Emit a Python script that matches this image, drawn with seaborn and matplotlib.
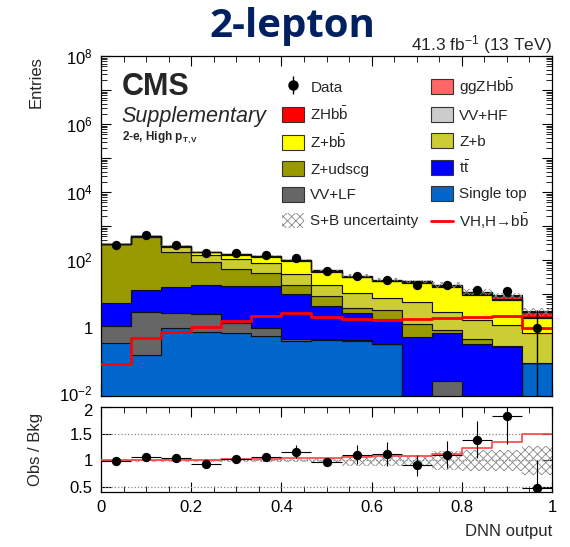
import numpy as np
import pandas as pd
import matplotlib
matplotlib.use("Agg")
import matplotlib.pyplot as plt
import matplotlib.ticker as mticker
import matplotlib.transforms as mtrans
from matplotlib.patches import Patch
from matplotlib.lines import Line2D
import seaborn as sns

# ---------------- data ----------------
edges = np.linspace(0, 1, 16)
bin_edges = [float(e) for e in edges]
centers = 0.5 * (edges[:-1] + edges[1:])

single_top = [0.37, 0.165, 1.0, 0.77, 0.72, 0.57, 0.41, 0.44, 0.42, 0.33, 0, 0, 0, 0, 0.094]
vv_lf      = [0.79, 2.7, 1.7, 1.78, 0.73, 0.46, 0.08, 0.03, 0.03, 0.0, 0, 0.027, 0, 0, 0]
ttbar      = [4.3, 10.1, 13.7, 15.7, 16.2, 16.6, 9.4, 3.9, 2.25, 1.45, 0.55, 0.69, 0.35, 0.28, 0]
z_udscg    = [285, 455, 160, 72, 35, 23, 8.4, 4.3, 1.06, 1.7, 0.72, 0.18, 0.12, 0.02, 0]
z_b        = [3, 30, 59, 51, 52, 39.5, 21.7, 9.6, 6.6, 4.4, 4.6, 2.1, 1.23, 0.9, 0.63]
z_bb       = [2, 20, 27, 30, 39, 46, 55, 27, 20.5, 15.5, 15, 13.4, 7.6, 5.4, 1.25]
vv_hf      = [0.5, 3, 2, 4, 5, 4, 4, 2.5, 1.5, 1.2, 1.0, 0.6, 0.4, 0.3, 0.1]
zh_bb      = [0.07, 0.41, 0.62, 0.86, 1.27, 1.83, 2.24, 1.63, 1.42, 1.36, 1.46, 1.55, 1.71, 1.78, 0.82]
ggzh_bb    = [0.02, 0.10, 0.15, 0.22, 0.32, 0.46, 0.56, 0.41, 0.36, 0.34, 0.36, 0.39, 0.43, 0.45, 0.21]

signal_vh  = [0.09, 0.51, 0.77, 1.08, 1.59, 2.29, 2.8, 2.04, 1.78, 1.7, 1.82, 1.94, 2.14, 2.23, 1.03]

data_obs   = [283, 527, 276, 160, 157, 139, 111, 47, 34, 26, 19, 18, 13, 12, 1]
data_err_lo = [17, 23, 17, 13, 13, 12, 10.5, 7, 5.8, 5.1, 4.4, 4.2, 3.6, 3.5, 0.99]
data_err_hi = [17, 23, 17, 13, 13, 12, 10.5, 7, 5.8, 5.1, 4.4, 4.2, 3.6, 3.5, 2.3]

ratio_obs  = [0.99, 1.07, 1.05, 0.93, 1.03, 1.06, 1.16, 0.97, 1.11, 1.12, 0.91, 1.11, 1.39, 1.83, 0.48]
ratio_err_lo = [0.03, 0.05, 0.06, 0.05, 0.06, 0.07, 0.12, 0.08, 0.17, 0.22, 0.2, 0.25, 0.34, 0.52, 0.48]
ratio_err_hi = [0.03, 0.05, 0.06, 0.05, 0.06, 0.07, 0.12, 0.08, 0.17, 0.22, 0.2, 0.25, 0.34, 0.52, 0.53]
ratio_sb   = [1.0, 1.0, 1.0, 1.01, 1.02, 1.03, 1.04, 1.04, 1.06, 1.08, 1.09, 1.12, 1.23, 1.34, 1.5]
unc_rel    = [0.02, 0.02, 0.02, 0.02, 0.025, 0.03, 0.035, 0.05, 0.1, 0.1, 0.11, 0.18, 0.2, 0.2, 0.27]

# stacking: first = top of stack
proc_names = ["ggZHbb", "ZHbb", "VV+HF", "Z+bb", "Z+b", "Z+udscg", "tt", "VV+LF", "Single top"]
proc_vals = [ggzh_bb, zh_bb, vv_hf, z_bb, z_b, z_udscg, ttbar, vv_lf, single_top]
proc_colors = {
    "ggZHbb": "#ff6666", "ZHbb": "#ff0000", "VV+HF": "#cccccc", "Z+bb": "#ffff00",
    "Z+b": "#cccc33", "Z+udscg": "#999900", "tt": "#0000ff", "VV+LF": "#666666",
    "Single top": "#0066cc",
}
proc_labels = {
    "ggZHbb": r"ggZHb$\bar{\mathrm{b}}$", "ZHbb": r"ZHb$\bar{\mathrm{b}}$", "VV+HF": "VV+HF",
    "Z+bb": r"Z+b$\bar{\mathrm{b}}$", "Z+b": "Z+b", "Z+udscg": "Z+udscg",
    "tt": r"t$\bar{\mathrm{t}}$", "VV+LF": "VV+LF", "Single top": "Single top",
}

df = pd.DataFrame({
    "x": np.tile(centers, len(proc_names)),
    "process": np.repeat(proc_names, len(centers)),
    "w": np.concatenate([np.asarray(v, float) for v in proc_vals]),
})
total = np.sum([np.asarray(v, float) for v in proc_vals], axis=0)

# ---------------- style ----------------
sns.set_theme(style="ticks")
plt.rcParams["font.family"] = ["Liberation Sans", "DejaVu Sans"]
plt.rcParams["mathtext.fontset"] = "custom"
plt.rcParams["mathtext.rm"] = "Liberation Sans"
plt.rcParams["mathtext.it"] = "Liberation Sans:italic"
plt.rcParams["mathtext.bf"] = "Liberation Sans:bold"
plt.rcParams["hatch.color"] = "#888888"
plt.rcParams["hatch.linewidth"] = 0.6

W, H = 570, 547
fig = plt.figure(figsize=(W / 100, H / 100), dpi=100)
ax = fig.add_axes([101 / W, 1 - 396 / H, 451 / W, 340 / H])
axr = fig.add_axes([101 / W, 1 - 492 / H, 451 / W, 85 / H], sharex=ax)

# ---------------- main panel ----------------
sns.histplot(data=df, x="x", weights="w", hue="process", hue_order=proc_names,
             multiple="stack", bins=bin_edges, element="step", fill=True,
             palette=proc_colors, alpha=1, edgecolor="#111111", linewidth=0.8,
             legend=False, ax=ax)

ax.stairs(total * (1 + np.asarray(unc_rel)), edges, baseline=total * (1 - np.asarray(unc_rel)),
          fill=True, facecolor="none", edgecolor="#888888", hatch="xxxx", linewidth=0, zorder=3)

sns.histplot(x=centers, weights=signal_vh, bins=bin_edges, element="step", fill=False,
             color="#ff0000", linewidth=2, ax=ax, zorder=4)

ax.errorbar(centers, data_obs, yerr=[data_err_lo, data_err_hi], fmt="none",
            ecolor="black", elinewidth=1, zorder=5)
sns.scatterplot(x=centers, y=data_obs, color="black", s=45, edgecolor="black",
                linewidth=0, ax=ax, zorder=6)

ax.set_yscale("log")
ax.set_xlim(0, 1)
ax.set_ylim(1e-2, 1e8)
ax.set_ylabel("")
ax.set_xlabel("")

def log_fmt(v, pos):
    e = int(round(np.log10(v)))
    if e % 2:
        return ""
    return "1" if e == 0 else r"$10^{%d}$" % e

ax.yaxis.set_major_locator(mticker.LogLocator(base=10, numticks=30))
ax.yaxis.set_minor_locator(mticker.LogLocator(base=10, subs=np.arange(2, 10), numticks=200))
ax.yaxis.set_major_formatter(mticker.FuncFormatter(log_fmt))
ax.yaxis.set_minor_formatter(mticker.NullFormatter())
ax.xaxis.set_major_locator(mticker.MultipleLocator(0.2))
ax.xaxis.set_minor_locator(mticker.MultipleLocator(0.05))
ax.tick_params(axis="x", labelbottom=False)

for a in (ax, axr):
    a.tick_params(which="both", direction="in", top=True, right=True, colors="black")
    a.tick_params(which="major", length=7, width=0.8, labelsize=12, pad=6)
    a.tick_params(which="minor", length=4, width=0.6)
    for s in a.spines.values():
        s.set_linewidth(0.9)
        s.set_color("black")

ax.set_ylabel("Entries", fontsize=12, loc="top")
ax.yaxis.set_label_coords(-0.128, 1.0)

# CMS texts
ax.text(0.046, 0.885, "CMS", transform=ax.transAxes, fontsize=22, fontweight="bold", va="baseline")
ax.text(0.046, 0.807, "Supplementary", transform=ax.transAxes, fontsize=15.5, style="italic", va="baseline")
ax.text(0.046, 0.751, r"2-e, High $\mathbf{p_{T,V}}$", transform=ax.transAxes, fontsize=8.5,
        fontweight="bold", va="baseline")

# legend
h_data = (Line2D([], [], color="black", marker="|", markersize=13, linestyle="none", markeredgewidth=1),
          Line2D([], [], color="black", marker="o", markersize=6.5, linestyle="none"))
def box(p):
    return Patch(facecolor=proc_colors[p], edgecolor="#333333", linewidth=0.8)
h_unc = Patch(facecolor="white", edgecolor="#888888", hatch="xxxx", linewidth=0)
h_sig = Line2D([], [], color="#ff0000", linewidth=2)
handles = [h_data, box("ZHbb"), box("Z+bb"), box("Z+udscg"), box("VV+LF"), h_unc,
           box("ggZHbb"), box("VV+HF"), box("Z+b"), box("tt"), box("Single top"), h_sig]
labels = ["Data", proc_labels["ZHbb"], proc_labels["Z+bb"], proc_labels["Z+udscg"],
          proc_labels["VV+LF"], "S+B uncertainty",
          proc_labels["ggZHbb"], proc_labels["VV+HF"], proc_labels["Z+b"], proc_labels["tt"],
          proc_labels["Single top"], "VH,H\u2192b$\\bar{\\mathrm{b}}$"]
ax.legend(handles, labels, ncol=2, loc="upper left", bbox_to_anchor=(282 / W, 1 - 76 / H),
          bbox_transform=fig.transFigure, frameon=False, fontsize=11, borderpad=0,
          borderaxespad=0, handlelength=1.45, handleheight=1.15, handletextpad=0.4,
          labelspacing=0.66, columnspacing=0.8)

# ---------------- ratio panel ----------------
u = np.asarray(unc_rel)
axr.stairs(1 + u, edges, baseline=1 - u, fill=True, facecolor="none", edgecolor="#888888",
           hatch="xxxx", linewidth=0, zorder=2)
for yv in (0.5, 1.0, 1.5):
    axr.axhline(yv, color="#888888", linestyle=":", linewidth=0.9, zorder=1)
sns.histplot(x=centers, weights=ratio_sb, bins=bin_edges, element="step", fill=False,
             color="#ff4444", linewidth=1.2, ax=axr, zorder=3)
axr.errorbar(centers, ratio_obs, yerr=[ratio_err_lo, ratio_err_hi], xerr=(edges[1] - edges[0]) / 2,
             fmt="none", ecolor="black", elinewidth=0.8, zorder=4)
sns.scatterplot(x=centers, y=ratio_obs, color="black", s=45, linewidth=0, ax=axr, zorder=5)

axr.set_xlim(0, 1)
axr.set_ylim(0.41, 2.0)
axr.set_yticks([0.5, 1, 1.5, 2])
axr.set_yticklabels(["0.5", "1", "1.5", "2"])
axr.yaxis.set_minor_locator(mticker.NullLocator())
axr.xaxis.set_major_formatter(mticker.FuncFormatter(lambda v, p: "%g" % round(v, 2)))
axr.set_ylabel("Obs / Bkg", fontsize=12)
axr.yaxis.set_label_coords(-0.128, 0.5)
axr.set_xlabel("DNN output", fontsize=12, loc="right")
axr.xaxis.set_label_coords(1.0, -0.38)

# ---------------- header ----------------
fig.text(292 / W, 1 - 37 / H, "2-lepton", fontsize=29, fontweight="bold", color="#002060",
         ha="center", va="baseline", family=["Open Sans", "DejaVu Sans"])
fig.text(552 / W, 1 - 50 / H, r"41.3 fb$^{-1}$ (13 TeV)", fontsize=12.5, ha="right", va="baseline")

# separate the touching "10^-2" and ratio "2" labels a little
fig.canvas.draw()
for t in ax.yaxis.get_major_ticks():
    if abs(np.log10(t.get_loc()) + 2) < 1e-6:
        t.label1.set_transform(t.label1.get_transform()
                               + mtrans.ScaledTranslation(0, 2.5 / 72, fig.dpi_scale_trans))
for t in axr.yaxis.get_major_ticks():
    if abs(t.get_loc() - 2) < 1e-6:
        t.label1.set_transform(t.label1.get_transform()
                               + mtrans.ScaledTranslation(0, -2.5 / 72, fig.dpi_scale_trans))

fig.savefig("out.png", dpi=100)
